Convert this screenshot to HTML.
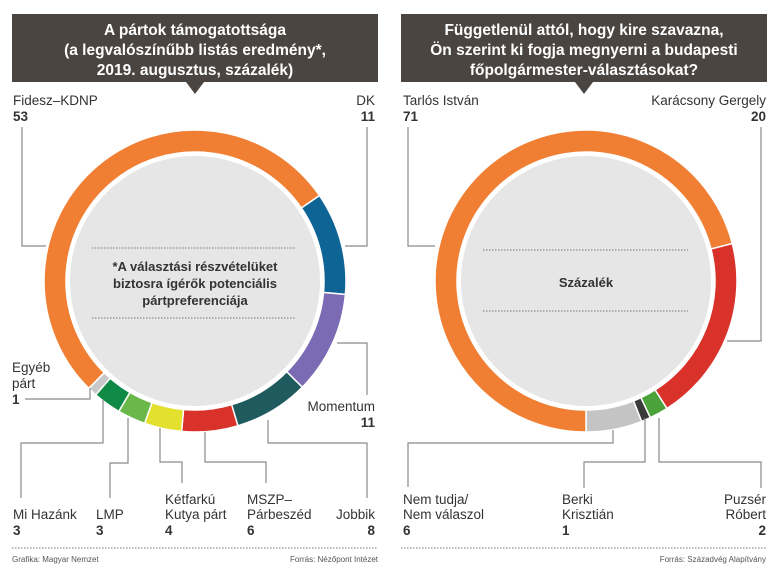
<!DOCTYPE html>
<html><head><meta charset="utf-8">
<style>
body{margin:0;background:#fff;}
svg text{font-family:"Liberation Sans",sans-serif;}
</style></head>
<body>
<svg id="s" width="779" height="574" viewBox="0 0 779 574" xmlns="http://www.w3.org/2000/svg">
<rect width="779" height="574" fill="#fff"/>
<!-- headers -->
<rect x="12" y="14" width="366" height="68" fill="#4a4541"/>
<polygon points="186,82 204,82 195,94" fill="#4a4541"/>
<rect x="401" y="14" width="366" height="68" fill="#4a4541"/>
<polygon points="575,82 593,82 584,94" fill="#4a4541"/>
<g fill="#fff" font-weight="bold" font-size="15.5" text-anchor="middle">
<text x="195" y="35">A pártok támogatottsága</text>
<text x="195" y="55">(a legvalószínűbb listás eredmény*,</text>
<text x="195" y="75">2019. augusztus, százalék)</text>
<text x="584" y="35">Függetlenül attól, hogy kire szavazna,</text>
<text x="584" y="55">Ön szerint ki fogja megnyerni a budapesti</text>
<text x="584" y="75">főpolgármester-választásokat?</text>
</g>
<g id="arcs"></g>
<circle cx="195" cy="281" r="125" fill="#e6e6e6"/>
<circle cx="586" cy="281" r="125" fill="#e6e6e6"/>
<g stroke="#777" stroke-width="1" stroke-dasharray="1.5,1.5">
<line x1="92" y1="248" x2="296" y2="248"/>
<line x1="92" y1="318" x2="296" y2="318"/>
<line x1="483" y1="250" x2="688" y2="250"/>
<line x1="483" y1="311" x2="688" y2="311"/>
<line x1="12" y1="548" x2="378" y2="548"/>
<line x1="401" y1="548" x2="767" y2="548"/>
</g>
<g fill="#333" font-weight="bold" font-size="13" text-anchor="middle">
<text x="195" y="271">*A választási részvételüket</text>
<text x="195" y="288">biztosra ígérők potenciális</text>
<text x="195" y="305">pártpreferenciája</text>
<text x="586" y="287">Százalék</text>
</g>
<!-- leader lines -->
<g fill="none" stroke="#8a8a8a" stroke-width="1.2">
<polyline points="22,127 22,246 46,246"/>
<polyline points="367,127 367,246 345,246"/>
<polyline points="25,399 90,399 90,388"/>
<polyline points="103,400 103,443 21,443 21,498"/>
<polyline points="128,418 128,463 110,463 110,498"/>
<polyline points="160,428 160,462 182,462 182,483"/>
<polyline points="205,432 205,462 266,462 266,483"/>
<polyline points="268,420 268,443 367,443 367,498"/>
<polyline points="337,343 367,343 367,395"/>
<polyline points="408,127 408,246 435,246"/>
<polyline points="761,127 761,341 727,341"/>
<polyline points="613,430 613,443 408,443 408,487"/>
<polyline points="645,418 645,462 584,462 584,488"/>
<polyline points="659,418 659,462 761,462 761,488"/>
</g>
<g fill="#333" font-size="13.5">
<text x="13" y="105">Fidesz–KDNP</text>
<text x="13" y="121" font-weight="bold">53</text>
<text x="375" y="105" text-anchor="end">DK</text>
<text x="375" y="121" text-anchor="end" font-weight="bold">11</text>
<text x="12" y="372">Egyéb</text>
<text x="12" y="388">párt</text>
<text x="12" y="404" font-weight="bold">1</text>
<text x="375" y="411" text-anchor="end">Momentum</text>
<text x="375" y="427" text-anchor="end" font-weight="bold">11</text>
<text x="13" y="519">Mi Hazánk</text>
<text x="13" y="535" font-weight="bold">3</text>
<text x="96" y="519">LMP</text>
<text x="96" y="535" font-weight="bold">3</text>
<text x="165" y="504">Kétfarkú</text>
<text x="165" y="519">Kutya párt</text>
<text x="165" y="535" font-weight="bold">4</text>
<text x="247" y="504">MSZP–</text>
<text x="247" y="519">Párbeszéd</text>
<text x="247" y="535" font-weight="bold">6</text>
<text x="375" y="519" text-anchor="end">Jobbik</text>
<text x="375" y="535" text-anchor="end" font-weight="bold">8</text>
<text x="403" y="105">Tarlós István</text>
<text x="403" y="121" font-weight="bold">71</text>
<text x="766" y="105" text-anchor="end">Karácsony Gergely</text>
<text x="766" y="121" text-anchor="end" font-weight="bold">20</text>
<text x="403" y="504">Nem tudja/</text>
<text x="403" y="519">Nem válaszol</text>
<text x="403" y="535" font-weight="bold">6</text>
<text x="562" y="504">Berki</text>
<text x="562" y="519">Krisztián</text>
<text x="562" y="535" font-weight="bold">1</text>
<text x="766" y="504" text-anchor="end">Puzsér</text>
<text x="766" y="519" text-anchor="end">Róbert</text>
<text x="766" y="535" text-anchor="end" font-weight="bold">2</text>
</g>
<g fill="#555" font-size="8">
<text x="12" y="562">Grafika: Magyar Nemzet</text>
<text x="378" y="562" text-anchor="end">Forrás: Nézőpont Intézet</text>
<text x="766" y="562" text-anchor="end">Forrás: Századvég Alapítvány</text>
</g>
</svg>
<script>
(function(){
var g=document.getElementById('arcs');
function pt(cx,cy,r,a){var t=(a-90)*Math.PI/180;return [cx+r*Math.cos(t),cy+r*Math.sin(t)];}
function seg(cx,cy,r0,r1,a0,a1,col){
 var big=(a1-a0)>180?1:0;
 var p1=pt(cx,cy,r1,a0),p2=pt(cx,cy,r1,a1),p3=pt(cx,cy,r0,a1),p4=pt(cx,cy,r0,a0);
 var d='M'+p1+' A'+r1+','+r1+' 0 '+big+' 1 '+p2+' L'+p3+' A'+r0+','+r0+' 0 '+big+' 0 '+p4+'Z';
 var e=document.createElementNS('http://www.w3.org/2000/svg','path');
 e.setAttribute('d',d);e.setAttribute('fill',col);e.setAttribute('stroke','#fff');e.setAttribute('stroke-width','1.5');
 g.appendChild(e);
}
function donut(cx,cy,start,data){
 var a=start;
 data.forEach(function(d){var b=a+d[0]*3.6;seg(cx,cy,129,151,a,b,d[1]);a=b;});
}
donut(195,281,55.5,[[11,'#0f6496'],[11,'#7b6bb5'],[8,'#1e5a5e'],[6,'#d9322a'],[4,'#e3e02e'],[3,'#6bb84a'],[3,'#0e8a46'],[1,'#c8c8c8'],[53,'#f07f33']]);
donut(586,281,75.6,[[20,'#d9322a'],[2,'#4ba23a'],[1,'#3a3a3a'],[6,'#c4c4c4'],[71,'#f07f33']]);
})();
</script>
</body></html>
